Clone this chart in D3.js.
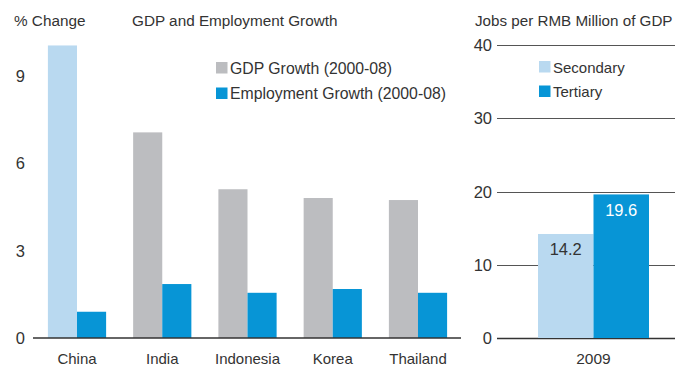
<!DOCTYPE html>
<html>
<head>
<meta charset="utf-8">
<script src="https://cdn.jsdelivr.net/npm/d3@7"></script>
<style>
  html, body { margin: 0; padding: 0; background: #fff; }
  svg { display: block; font-family: "Liberation Sans", Arial, sans-serif; }
  text { fill: #333; }
</style>
</head>
<body>
<svg id="chart" width="675" height="366"></svg>
<script>
// ---- Data ----
const categories = ["China", "India", "Indonesia", "Korea", "Thailand"];
const gdpGrowth = [10.03, 7.05, 5.1, 4.8, 4.73];
const employmentGrowth = [0.9, 1.85, 1.55, 1.68, 1.55];
const leftTicks = [0, 3, 6, 9];
const leftSeries = ["GDP Growth (2000-08)", "Employment Growth (2000-08)"];

const years = ["2009"];
const secondary = [14.2];
const tertiary = [19.6];
const rightTicks = [0, 10, 20, 30, 40];
const rightSeries = ["Secondary", "Tertiary"];

// ---- Styles ----
const cGray = "#bcbdc0", cBlue = "#0795d6", cLight = "#b9d9f0";
const svg = d3.select("#chart");
const fs = 15, fsTick = 16.5;

// ---- Left chart ----
const xL = d3.scaleBand().domain(categories).range([34, 461]).paddingInner(0.317).paddingOuter(0.163);
const xLs = d3.scaleBand().domain(leftSeries).range([0, xL.bandwidth()]);
const yL = d3.scaleLinear().domain([0, 9]).range([338, 75.5]);

const leftData = categories.map((c, i) => ({ c, vals: [
  { s: leftSeries[0], v: gdpGrowth[i], col: c === "China" ? cLight : cGray },
  { s: leftSeries[1], v: employmentGrowth[i], col: cBlue }
]}));

const g = svg.append("g").selectAll("g").data(leftData).join("g")
  .attr("transform", d => `translate(${xL(d.c)},0)`);
g.selectAll("rect").data(d => d.vals).join("rect")
  .attr("x", d => xLs(d.s)).attr("width", xLs.bandwidth())
  .attr("y", d => yL(d.v)).attr("height", d => yL(0) - yL(d.v))
  .attr("fill", d => d.col);

svg.append("line").attr("x1", 33).attr("x2", 461).attr("y1", yL(0)).attr("y2", yL(0))
  .attr("stroke", "#333").attr("stroke-width", 1.3);

svg.append("g").selectAll("text").data(leftTicks).join("text")
  .attr("x", 25).attr("y", d => yL(d) + 6).attr("text-anchor", "end")
  .attr("font-size", fsTick).text(d => d);

svg.append("g").selectAll("text").data(categories).join("text")
  .attr("x", d => xL(d) + xL.bandwidth() / 2).attr("y", 364).attr("text-anchor", "middle")
  .attr("font-size", fs).text(d => d);

svg.append("text").attr("x", 14).attr("y", 26).attr("font-size", 15.3).text("% Change");
svg.append("text").attr("x", 132).attr("y", 26).attr("font-size", 15.3).text("GDP and Employment Growth");

const legL = svg.append("g").selectAll("g").data(leftSeries).join("g")
  .attr("transform", (d, i) => `translate(216,${62 + i * 25.5})`);
legL.append("rect").attr("width", 11.5).attr("height", 11.5).attr("fill", (d, i) => i ? cBlue : cGray);
legL.append("text").attr("x", 14).attr("y", 11.5).attr("font-size", 15.8).text(d => d);

// ---- Right chart ----
const yR = d3.scaleLinear().domain([0, 40]).range([338, 45]);
const xR = d3.scaleBand().domain(years).range([538, 649]).padding(0);
const xRs = d3.scaleBand().domain(rightSeries).range([0, xR.bandwidth()]);

svg.append("g").selectAll("line").data(rightTicks).join("line")
  .attr("x1", 497).attr("x2", 675)
  .attr("y1", d => Math.round(yR(d)) + 0.5).attr("y2", d => Math.round(yR(d)) + 0.5)
  .attr("stroke", d => d === 0 ? "#333" : "#555").attr("stroke-width", d => d === 0 ? 1.3 : 1);

svg.append("g").selectAll("text").data(rightTicks).join("text")
  .attr("x", 492).attr("y", d => yR(d) + 6).attr("text-anchor", "end")
  .attr("font-size", fsTick).text(d => d);

const rightData = years.map((y, i) => ({ y, vals: [
  { s: rightSeries[0], v: secondary[i], col: cLight, tc: "#333" },
  { s: rightSeries[1], v: tertiary[i], col: cBlue, tc: "#fff" }
]}));
const gr = svg.append("g").selectAll("g").data(rightData).join("g")
  .attr("transform", d => `translate(${xR(d.y)},0)`);
gr.selectAll("rect").data(d => d.vals).join("rect")
  .attr("x", d => xRs(d.s)).attr("width", xRs.bandwidth())
  .attr("y", d => yR(d.v)).attr("height", d => yR(0) - yR(d.v))
  .attr("fill", d => d.col);
gr.selectAll("text").data(d => d.vals).join("text")
  .attr("x", d => xRs(d.s) + xRs.bandwidth() / 2).attr("y", d => yR(d.v) + 21.5)
  .attr("text-anchor", "middle").attr("font-size", fsTick)
  .style("fill", d => d.tc).text(d => d.v.toFixed(1));

svg.append("g").selectAll("text").data(years).join("text")
  .attr("x", d => xR(d) + xR.bandwidth() / 2).attr("y", 364).attr("text-anchor", "middle")
  .attr("font-size", 15.5).text(d => d);

svg.append("text").attr("x", 475).attr("y", 26).attr("font-size", 15.2).text("Jobs per RMB Million of GDP");

const legR = svg.append("g").selectAll("g").data(rightSeries).join("g")
  .attr("transform", (d, i) => `translate(539,${61 + i * 24.5})`);
legR.append("rect").attr("width", 11.5).attr("height", 11.5).attr("fill", (d, i) => i ? cBlue : cLight);
legR.append("text").attr("x", 14).attr("y", 11.5).attr("font-size", fs).text(d => d);
</script>
</body>
</html>
